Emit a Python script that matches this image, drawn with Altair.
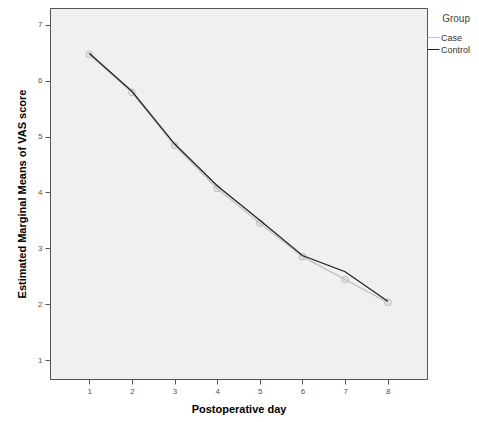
import altair as alt
import pandas as pd

days = [1, 2, 3, 4, 5, 6, 7, 8]
case_vals = [6.47, 5.79, 4.84, 4.07, 3.45, 2.85, 2.44, 2.03]
control_vals = [6.49, 5.81, 4.87, 4.12, 3.50, 2.87, 2.58, 2.05]
groups = ["Case", "Control"]

df = pd.DataFrame({
    "day": days * 2,
    "score": case_vals + control_vals,
    "group": [groups[0]] * len(days) + [groups[1]] * len(days),
})

FONT = "Liberation Sans"

x = alt.X("day:Q", scale=alt.Scale(domain=[0.08, 8.92], nice=False, zero=False),
          axis=alt.Axis(title="Postoperative day", values=days, format="d",
                        tickSize=5, labelFontSize=8, labelColor="#555555",
                        domainColor="#555555", tickColor="#555555", grid=False,
                        titleFontSize=11, titleFontWeight="bold", titleFont=FONT,
                        labelFont=FONT, titlePadding=8, labelPadding=3))
y = alt.Y("score:Q", scale=alt.Scale(domain=[0.66, 7.30], nice=False, zero=False),
          axis=alt.Axis(title="Estimated Marginal Means of VAS score", values=[1, 2, 3, 4, 5, 6, 7],
                        format="d", tickSize=5, labelFontSize=8, labelColor="#555555",
                        domainColor="#555555", tickColor="#555555", grid=False,
                        titleFontSize=11, titleFont=FONT, titleFontWeight="bold",
                        labelFont=FONT, titlePadding=10, labelPadding=3))

color = alt.Color("group:N",
                  scale=alt.Scale(domain=groups, range=["#bdbdbd", "#1e1e1e"]),
                  legend=alt.Legend(title="Group", orient="none", legendX=377, legendY=6,
                                    symbolType="stroke", symbolSize=144, symbolStrokeWidth=1,
                                    labelFontSize=9, labelFont=FONT, labelColor="#333333",
                                    titleFontSize=10, titleFont=FONT, titleFontWeight="normal",
                                    titleColor="#444444", titleAnchor="end", labelOffset=1,
                                    rowPadding=-5, titlePadding=7, padding=0))

base = alt.Chart(df)
lines = base.mark_line(strokeWidth=1.2).encode(x=x, y=y, color=color,
                                                order=alt.Order("day:Q"))
points = base.transform_filter(alt.datum.group == "Case").mark_point(
    shape="circle", size=45, filled=True, fill="#e4e4e4", stroke="#bdbdbd", strokeWidth=1, opacity=1
).encode(x=x, y=y)

chart = alt.layer(points, lines).properties(
    width=377, height=371,
    padding={"left": 42, "top": 0, "right": 44, "bottom": 38},
    autosize=alt.AutoSizeParams(type="none"),
).configure_view(fill="#f0f0f0", stroke="#555555", strokeWidth=1)

chart.save("out.html", embed_options={"renderer": "svg", "actions": False})
